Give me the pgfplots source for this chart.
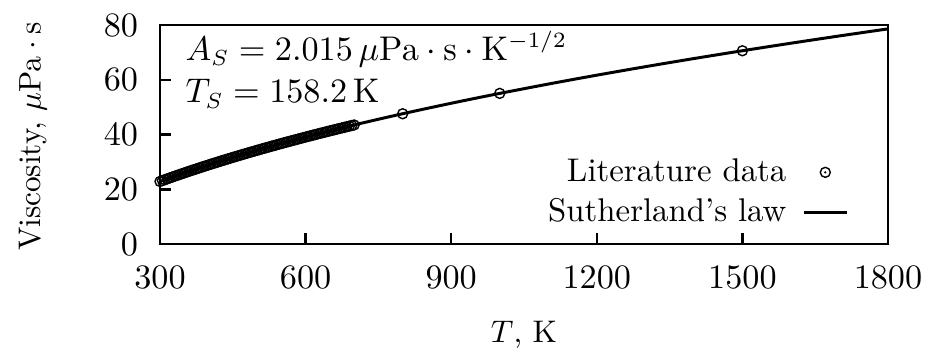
\documentclass[border=0pt]{standalone}
\usepackage{pgfplots}
\pgfplotsset{compat=1.18}
\pgfdeclareplotmark{odot}{%
  \pgfpathcircle{\pgfpointorigin}{\pgfplotmarksize}\pgfusepathqstroke
  \pgfpathcircle{\pgfpointorigin}{0.4pt}\pgfusepathqfill}
\begin{document}
\begin{tikzpicture}
\useasboundingbox (-51.2pt,-34.56pt) rectangle (246.72pt,78.08pt);
\begin{axis}[
  at={(0,0)}, anchor=south west,
  scale only axis, width=232.96pt, height=70.08pt,
  xmin=300, xmax=1800, ymin=0, ymax=80,
  xtick={300,600,900,1200,1500,1800},
  ytick={0,20,40,60,80},
  /pgf/number format/1000 sep={},
  xtick pos=bottom, ytick pos=left,
  tick align=inside, major tick length=3.5pt,
  axis line style={line width=0.8pt},
  every tick/.style={line width=0.8pt, black},
  tick label style={font=\fontsize{11.1pt}{13pt}\selectfont},
  xticklabel style={yshift=-3.6pt},
  yticklabel style={xshift=-3.5pt},
  label style={font=\fontsize{10pt}{12pt}\selectfont},
  xlabel={$T$, K},
  ylabel={Viscosity, $\mu\mathrm{Pa}\cdot\mathrm{s}$},
  xlabel style={at={(axis description cs:0.5,-0.45)}, anchor=base},
  ylabel style={at={(axis description cs:-0.14,0.491)}, anchor=south},
  clip=false,
  legend style={draw=none, fill=none, font=\fontsize{10.5pt}{12.6pt}\selectfont,
    at={(axis description cs:0.9596,0.0205)}, anchor=south east, row sep=0pt,
    column sep=3pt},
  legend cell align=right,
  legend plot pos=right,
  legend image code/.code={\draw[mark repeat=2,mark phase=2,#1] plot coordinates {(0cm,0cm) (0.245cm,0cm) (0.49cm,0cm)};},
]
\addplot[only marks, mark=odot, mark size=1.6pt, mark options={line width=0.45pt}] coordinates {
(300,22.851)(305,23.172)(310,23.490)(315,23.806)(320,24.121)(325,24.433)(330,24.743)(335,25.051)(340,25.357)(345,25.660)
(350,25.962)(355,26.262)(360,26.560)(365,26.856)(370,27.151)(375,27.443)(380,27.734)(385,28.022)(390,28.310)(395,28.595)
(400,28.879)(405,29.160)(410,29.441)(415,29.719)(420,29.996)(425,30.272)(430,30.546)(435,30.818)(440,31.089)(445,31.358)
(450,31.626)(455,31.893)(460,32.158)(465,32.421)(470,32.683)(475,32.944)(480,33.203)(485,33.461)(490,33.718)(495,33.973)
(500,34.227)(505,34.480)(510,34.732)(515,34.982)(520,35.231)(525,35.479)(530,35.725)(535,35.971)(540,36.215)(545,36.458)
(550,36.700)(555,36.941)(560,37.180)(565,37.419)(570,37.656)(575,37.893)(580,38.128)(585,38.362)(590,38.595)(595,38.828)
(600,39.059)(605,39.289)(610,39.518)(615,39.746)(620,39.973)(625,40.200)(630,40.425)(635,40.649)(640,40.873)(645,41.095)
(650,41.317)(655,41.537)(660,41.757)(665,41.976)(670,42.194)(675,42.411)(680,42.627)(685,42.843)(690,43.058)(695,43.272)
(700,43.484)(800,47.58)(1000,55.02)(1500,70.59)
};
\addlegendentry{Literature data}
\addplot[black, line width=0.95pt, smooth] coordinates {
(300,22.851)(350,25.962)(400,28.879)(450,31.626)(500,34.227)(550,36.700)(600,39.059)(650,41.317)(700,43.484)
(750,45.571)(800,47.583)(850,49.529)(900,51.413)(950,53.241)(1000,55.016)(1100,58.427)(1200,61.671)(1300,64.770)
(1400,67.740)(1500,70.595)(1600,73.348)(1700,76.008)(1800,78.583)
};
\addlegendentry{Sutherland's law}
\node[anchor=base west, inner sep=0pt, font=\fontsize{10.5pt}{12.6pt}\selectfont] at (axis description cs:0.0343,0.840)
  {$A_S = 2.015\,\mu\mathrm{Pa}\cdot\mathrm{s}\cdot\mathrm{K}^{-1/2}$};
\node[anchor=base west, inner sep=0pt, font=\fontsize{10.5pt}{12.6pt}\selectfont] at (axis description cs:0.0343,0.644)
  {$T_S = 158.2\,\mathrm{K}$};
\end{axis}
\end{tikzpicture}
\end{document}
